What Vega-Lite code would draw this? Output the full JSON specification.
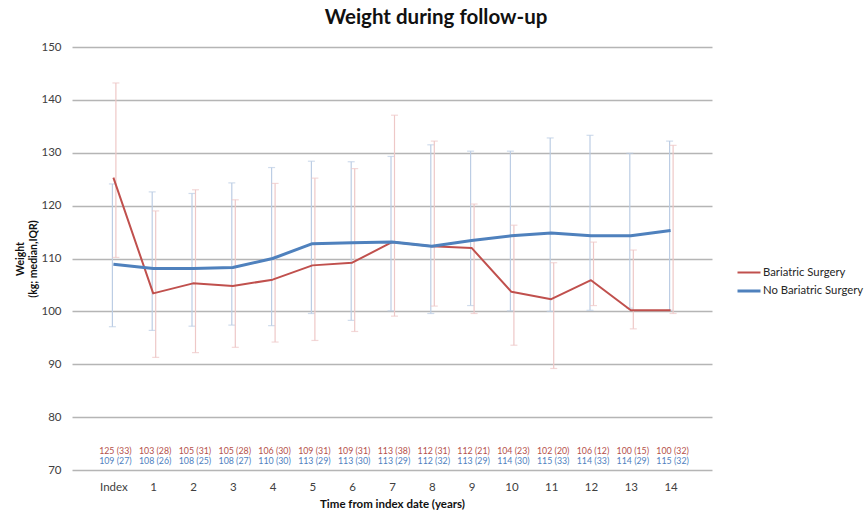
{
  "$schema": "https://vega.github.io/schema/vega-lite/v6.json",
  "width": 640,
  "height": 423,
  "autosize": {"type": "none"},
  "padding": {"left": 72, "top": 47, "right": 152, "bottom": 48},
  "background": "white",
  "config": {
    "font": "Lato",
    "view": {"stroke": null}
  },
  "title": {
    "text": "Weight during follow-up",
    "font": "Lato",
    "fontSize": 20.5,
    "fontWeight": "bold",
    "color": "#111111",
    "anchor": "middle",
    "frame": "group",
    "dx": 44,
    "offset": 13
  },
  "data": {
    "values": [
      {"t": 0, "group": "Bariatric Surgery", "median": 125.3, "q1": 110.2, "q3": 143.2, "iqr": 33},
      {"t": 1, "group": "Bariatric Surgery", "median": 103.4, "q1": 91.3, "q3": 119.0, "iqr": 28},
      {"t": 2, "group": "Bariatric Surgery", "median": 105.3, "q1": 92.2, "q3": 123.0, "iqr": 31},
      {"t": 3, "group": "Bariatric Surgery", "median": 104.8, "q1": 93.2, "q3": 121.1, "iqr": 28},
      {"t": 4, "group": "Bariatric Surgery", "median": 106.0, "q1": 94.2, "q3": 124.2, "iqr": 30},
      {"t": 5, "group": "Bariatric Surgery", "median": 108.7, "q1": 94.5, "q3": 125.2, "iqr": 31},
      {"t": 6, "group": "Bariatric Surgery", "median": 109.2, "q1": 96.2, "q3": 127.0, "iqr": 31},
      {"t": 7, "group": "Bariatric Surgery", "median": 113.1, "q1": 99.1, "q3": 137.1, "iqr": 38},
      {"t": 8, "group": "Bariatric Surgery", "median": 112.3, "q1": 101.0, "q3": 132.2, "iqr": 31},
      {"t": 9, "group": "Bariatric Surgery", "median": 112.0, "q1": 99.6, "q3": 120.3, "iqr": 21},
      {"t": 10, "group": "Bariatric Surgery", "median": 103.7, "q1": 93.6, "q3": 116.3, "iqr": 23},
      {"t": 11, "group": "Bariatric Surgery", "median": 102.3, "q1": 89.2, "q3": 109.2, "iqr": 20},
      {"t": 12, "group": "Bariatric Surgery", "median": 105.9, "q1": 101.1, "q3": 113.1, "iqr": 12},
      {"t": 13, "group": "Bariatric Surgery", "median": 100.2, "q1": 96.7, "q3": 111.6, "iqr": 15},
      {"t": 14, "group": "Bariatric Surgery", "median": 100.2, "q1": 99.6, "q3": 131.4, "iqr": 32},
      {"t": 0, "group": "No Bariatric Surgery", "median": 108.9, "q1": 97.1, "q3": 124.1, "iqr": 27},
      {"t": 1, "group": "No Bariatric Surgery", "median": 108.1, "q1": 96.4, "q3": 122.6, "iqr": 26},
      {"t": 2, "group": "No Bariatric Surgery", "median": 108.1, "q1": 97.2, "q3": 122.3, "iqr": 25},
      {"t": 3, "group": "No Bariatric Surgery", "median": 108.3, "q1": 97.4, "q3": 124.3, "iqr": 27},
      {"t": 4, "group": "No Bariatric Surgery", "median": 110.0, "q1": 97.3, "q3": 127.2, "iqr": 30},
      {"t": 5, "group": "No Bariatric Surgery", "median": 112.8, "q1": 99.6, "q3": 128.4, "iqr": 29},
      {"t": 6, "group": "No Bariatric Surgery", "median": 113.0, "q1": 98.3, "q3": 128.3, "iqr": 30},
      {"t": 7, "group": "No Bariatric Surgery", "median": 113.1, "q1": 100.1, "q3": 129.3, "iqr": 29},
      {"t": 8, "group": "No Bariatric Surgery", "median": 112.3, "q1": 99.6, "q3": 131.5, "iqr": 32},
      {"t": 9, "group": "No Bariatric Surgery", "median": 113.4, "q1": 101.1, "q3": 130.3, "iqr": 29},
      {"t": 10, "group": "No Bariatric Surgery", "median": 114.3, "q1": 100.1, "q3": 130.3, "iqr": 30},
      {"t": 11, "group": "No Bariatric Surgery", "median": 114.8, "q1": 100.0, "q3": 132.8, "iqr": 33},
      {"t": 12, "group": "No Bariatric Surgery", "median": 114.3, "q1": 100.2, "q3": 133.3, "iqr": 33},
      {"t": 13, "group": "No Bariatric Surgery", "median": 114.3, "q1": 100.6, "q3": 129.9, "iqr": 29},
      {"t": 14, "group": "No Bariatric Surgery", "median": 115.3, "q1": 100.2, "q3": 132.2, "iqr": 32}
    ]
  },
  "encoding": {
    "x": {
      "field": "t",
      "type": "quantitative",
      "scale": {"domain": [-1.04, 15.04], "nice": false, "zero": false},
      "axis": {
        "values": [0, 1, 2, 3, 4, 5, 6, 7, 8, 9, 10, 11, 12, 13, 14],
        "labelExpr": "datum.value == 0 ? 'Index' : datum.label",
        "title": "Time from index date (years)",
        "titleFont": "Lato",
        "titleFontSize": 11.5,
        "titleFontWeight": "bold",
        "titleColor": "#111111",
        "titlePadding": 6,
        "labelFont": "Lato",
        "labelFontSize": 11.5,
        "labelColor": "#404040",
        "labelPadding": 11,
        "grid": false,
        "domain": false,
        "ticks": false
      }
    },
    "y": {
      "type": "quantitative",
      "scale": {"domain": [70, 150], "nice": false, "zero": false},
      "axis": {
        "values": [70, 80, 90, 100, 110, 120, 130, 140, 150],
        "title": ["Weight", "(kg; median,IQR)"],
        "titleFont": "Lato",
        "titleFontSize": 10.5,
        "titleFontWeight": "bold",
        "titleColor": "#111111",
        "titleLineHeight": 13,
        "titlePadding": 2,
        "labelFont": "Lato",
        "labelFontSize": 11.5,
        "labelColor": "#404040",
        "labelPadding": 11,
        "grid": true,
        "gridColor": "#b5b5b5",
        "gridWidth": 1.3,
        "domain": false,
        "ticks": false
      }
    }
  },
  "layer": [
    {
      "transform": [{"filter": "datum.group == 'No Bariatric Surgery'"}],
      "mark": {"type": "rule", "color": "#bccde4", "strokeWidth": 1.2, "xOffset": -1},
      "encoding": {"y": {"field": "q1", "type": "quantitative"}, "y2": {"field": "q3"}}
    },
    {
      "transform": [
        {"filter": "datum.group == 'No Bariatric Surgery'"},
        {"fold": ["q1", "q3"], "as": ["end", "value"]}
      ],
      "mark": {"type": "tick", "orient": "horizontal", "color": "#bccde4", "size": 7, "thickness": 1.2, "xOffset": -1},
      "encoding": {"y": {"field": "value", "type": "quantitative"}}
    },
    {
      "transform": [{"filter": "datum.group == 'Bariatric Surgery'"}],
      "mark": {"type": "rule", "color": "#eec8c7", "strokeWidth": 1.2, "xOffset": 2.5},
      "encoding": {"y": {"field": "q1", "type": "quantitative"}, "y2": {"field": "q3"}}
    },
    {
      "transform": [
        {"filter": "datum.group == 'Bariatric Surgery'"},
        {"fold": ["q1", "q3"], "as": ["end", "value"]}
      ],
      "mark": {"type": "tick", "orient": "horizontal", "color": "#eec8c7", "size": 7, "thickness": 1.2, "xOffset": 2.5},
      "encoding": {"y": {"field": "value", "type": "quantitative"}}
    },
    {
      "mark": {"type": "line", "strokeJoin": "round"},
      "encoding": {
        "y": {"field": "median", "type": "quantitative"},
        "color": {
          "field": "group",
          "type": "nominal",
          "scale": {"domain": ["Bariatric Surgery", "No Bariatric Surgery"], "range": ["#c0504d", "#4f81bd"]},
          "legend": {
            "title": null,
            "orient": "none",
            "legendX": 664,
            "legendY": 213,
            "symbolType": "stroke",
            "symbolSize": 529,
            "symbolStrokeWidth": 2.2,
            "labelFont": "Lato",
            "labelFontSize": 11.3,
            "labelColor": "#262626",
            "labelOffset": 1,
            "rowPadding": 0
          }
        },
        "strokeWidth": {
          "field": "group",
          "type": "nominal",
          "scale": {"domain": ["Bariatric Surgery", "No Bariatric Surgery"], "range": [2, 3]},
          "legend": null
        }
      }
    },
    {
      "transform": [
        {"filter": "datum.group == 'Bariatric Surgery'"},
        {"calculate": "format(datum.median, '.0f') + ' (' + datum.iqr + ')'", "as": "label"}
      ],
      "mark": {"type": "text", "font": "Lato", "fontSize": 8.8, "color": "#b5504a", "xOffset": 2},
      "encoding": {"y": {"datum": 73.6}, "text": {"field": "label"}}
    },
    {
      "transform": [
        {"filter": "datum.group == 'No Bariatric Surgery'"},
        {"calculate": "format(datum.median, '.0f') + ' (' + datum.iqr + ')'", "as": "label"}
      ],
      "mark": {"type": "text", "font": "Lato", "fontSize": 8.8, "color": "#4f7fc0", "xOffset": 2},
      "encoding": {"y": {"datum": 71.7}, "text": {"field": "label"}}
    }
  ]
}
